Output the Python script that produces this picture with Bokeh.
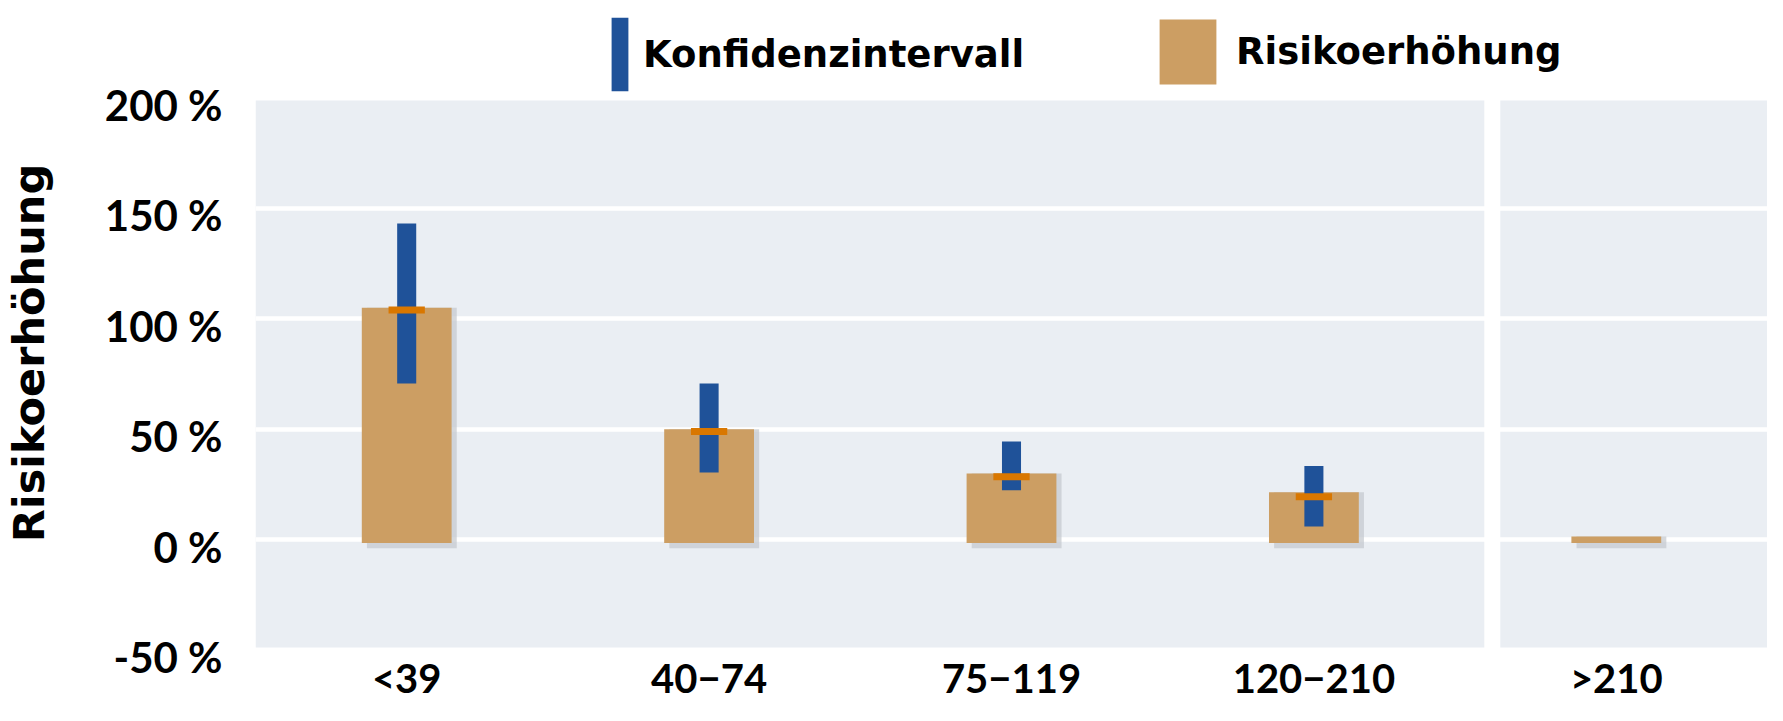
from bokeh.plotting import figure
from bokeh.models import (FactorRange, Range1d, Span, Legend, LegendItem, BoxAnnotation,
                          FixedTicker, CustomJSTickFormatter, ColumnDataSource)
from bokeh.transform import dodge
from bokeh.embed import file_html
from bokeh.resources import INLINE

# ---------------- data ----------------
CATS = ["<39", "40\u221274", "75\u2212119", "120\u2212210", ">210"]
RISK = [105, 50, 30, 21.5, 1.5]          # bar heights (Risikoerhöhung, %)
CI_CATS = CATS[:4]
CI_LOW = [70.7, 30.4, 22.4, 6.0]          # Konfidenzintervall lower (%)
CI_HIGH = [143.1, 70.7, 44.4, 33.4]       # Konfidenzintervall upper (%)
POINT = [104, 49, 28.5, 19.5]             # point estimate markers (%)
Y_TICKS = [-50, 0, 50, 100, 150, 200]

# ---------------- style ----------------
BAR_COLOR = "#CC9E63"
CI_COLOR = "#1F5299"
MARK_COLOR = "#D97700"
SHADOW = "#C3C7CD"
BG = "#EAEEF3"
BAR_BASE = -1.5
SHADOW_DX = 0.017
SHADOW_DROP = 2.4
SEP_POS = 4.09
VIEW_BOTTOM, VIEW_TOP = -75.0, 244.0      # full canvas height (legend + labels inside)
BOX_BOTTOM, BOX_TOP = -48.8, 198.8        # shaded plotting area
LABEL_SHIFT = 3.2                         # tick labels sit slightly below their gridline
TICK_FONT = "Lato"
TEXT_FONT = "DejaVu Sans"

p = figure(width=1767, height=705, x_range=FactorRange(*CATS),
           y_range=Range1d(VIEW_BOTTOM, VIEW_TOP),
           output_backend="svg", toolbar_location=None,
           min_border_left=251, min_border_right=0,
           min_border_top=0, min_border_bottom=0)
p.background_fill_color = "white"
p.border_fill_color = "white"
p.outline_line_color = None

# shaded area
p.add_layout(BoxAnnotation(bottom=BOX_BOTTOM, top=BOX_TOP, fill_color=BG,
                           fill_alpha=1, line_color=None, level="image"))
# separator
p.add_layout(Span(location=SEP_POS, dimension="height", line_color="white",
                  line_width=16, level="image"))

# grid
p.xgrid.visible = False
p.ygrid.ticker = FixedTicker(ticks=[t for t in Y_TICKS if BOX_BOTTOM < t < BOX_TOP])
p.ygrid.grid_line_color = "white"
p.ygrid.grid_line_width = 4.5

# bars
src = ColumnDataSource(dict(cat=CATS, risk=RISK))
p.vbar(x=dodge("cat", SHADOW_DX, range=p.x_range), top="risk",
       bottom=BAR_BASE - SHADOW_DROP, width=0.297, source=src,
       fill_color=SHADOW, fill_alpha=0.7, line_color=None)
bars = p.vbar(x="cat", top="risk", bottom=BAR_BASE, width=0.297, source=src,
              fill_color=BAR_COLOR, line_color=None)

ci_src = ColumnDataSource(dict(cat=CI_CATS, lo=CI_LOW, hi=CI_HIGH, pt=POINT))
ci = p.vbar(x="cat", top="hi", bottom="lo", width=0.063, source=ci_src,
            fill_color=CI_COLOR, line_color=None)
p.rect(x="cat", y="pt", width=0.12, height=7, height_units="screen",
       source=ci_src, fill_color=MARK_COLOR, line_color=None)

# axes
ya = p.yaxis[0]
ya.ticker = FixedTicker(ticks=[t - LABEL_SHIFT for t in Y_TICKS])
ya.formatter = CustomJSTickFormatter(code=f"return Math.round(tick + {LABEL_SHIFT}) + ' %';")
ya.axis_line_color = None
ya.major_tick_line_color = None
ya.minor_tick_line_color = None
ya.major_label_standoff = 27
ya.major_label_text_font = TICK_FONT
ya.major_label_text_font_style = "bold"
ya.major_label_text_font_size = "42px"
ya.major_label_text_color = "black"
ya.axis_label = "Risikoerhöhung"
ya.axis_label_text_font = TEXT_FONT
ya.axis_label_text_font_style = "bold"
ya.axis_label_text_font_size = "43px"
ya.axis_label_text_color = "black"
ya.axis_label_standoff = 48

xa = p.xaxis[0]
xa.fixed_location = BOX_BOTTOM
xa.axis_line_color = None
xa.major_tick_line_color = None
xa.minor_tick_line_color = None
xa.major_label_standoff = 0
xa.major_label_text_font = TICK_FONT
xa.major_label_text_font_style = "bold"
xa.major_label_text_font_size = "40px"
xa.major_label_text_color = "black"

# legends
def make_legend(label, r, loc, gw, gh):
    return Legend(items=[LegendItem(label=label, renderers=[r])], location=loc,
                  orientation="horizontal", glyph_width=gw, glyph_height=gh,
                  label_standoff=13, padding=0, margin=0, spacing=0,
                  border_line_color=None, background_fill_alpha=0,
                  label_text_font=TEXT_FONT, label_text_font_style="bold",
                  label_text_font_size="37px", label_text_color="black")

p.add_layout(make_legend("Konfidenzintervall", ci, (354, 605), 21, 92))
p.add_layout(make_legend("Risikoerhöhung", bars, (897, 613), 71, 81))

open("out.html", "w").write(file_html(p, INLINE))
